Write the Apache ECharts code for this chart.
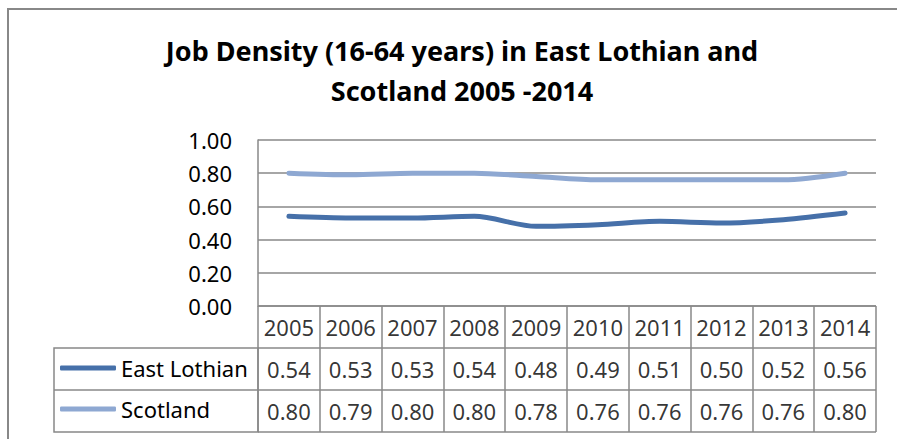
<!DOCTYPE html>
<html>
<head>
<meta charset="utf-8">
<script src="https://cdn.jsdelivr.net/npm/echarts@6/dist/echarts.min.js"></script>
<style>
  html, body { margin: 0; padding: 0; background: #fff; }
  #chart { width: 897px; height: 439px; }
</style>
</head>
<body>
<div id="chart"></div>
<script>
// Job density figures, 2005-2014
const years = ['2005', '2006', '2007', '2008', '2009', '2010', '2011', '2012', '2013', '2014'];
const eastLothian = [0.54, 0.53, 0.53, 0.54, 0.48, 0.49, 0.51, 0.50, 0.52, 0.56];
const scotland = [0.80, 0.79, 0.80, 0.80, 0.78, 0.76, 0.76, 0.76, 0.76, 0.80];
const seriesNames = ['East Lothian', 'Scotland'];
const yTicks = { min: 0, max: 1, interval: 0.2 };

const FONT = 'Noto Sans';
const GRID_COLOR = '#888888';
const COLORS = ['#4670a9', '#8ea8d2'];

// Data table rows (top to bottom): header row of years, then one row per series
const tableRows = ['header', seriesNames[0], seriesNames[1]];
const tableCells = [];
years.forEach((y, i) => {
  tableCells.push({ value: [y, 'header'], text: y });
  tableCells.push({ value: [y, seriesNames[0]], text: eastLothian[i].toFixed(2) });
  tableCells.push({ value: [y, seriesNames[1]], text: scotland[i].toFixed(2) });
});

const chart = echarts.init(document.getElementById('chart'), null, { renderer: 'svg' });

chart.setOption({
  backgroundColor: '#fff',
  animation: false,
  title: {
    text: 'Job Density (16-64 years) in East Lothian and\nScotland 2005 -2014',
    left: 457,
    top: 25,
    textAlign: 'center',
    textStyle: { fontFamily: FONT, fontWeight: 'bold', fontSize: 27, lineHeight: 40, color: '#000' }
  },
  legend: {
    orient: 'vertical',
    left: 55,
    top: 351,
    itemWidth: 56,
    itemHeight: 5,
    itemGap: 17,
    icon: 'roundRect',
    data: seriesNames,
    textStyle: { fontFamily: FONT, fontSize: 22, lineHeight: 24, color: '#000' }
  },
  grid: [
    { left: 258, right: 21, top: 140, height: 166 },
    { left: 258, right: 21, top: 306, height: 126 }
  ],
  xAxis: [
    {
      gridIndex: 0, type: 'category', data: years, boundaryGap: true,
      axisLine: { show: false }, axisTick: { show: false }, axisLabel: { show: false }
    },
    {
      gridIndex: 1, type: 'category', data: years, boundaryGap: true,
      axisLine: { show: false }, axisTick: { show: false }, axisLabel: { show: false },
      splitLine: { show: true, lineStyle: { color: GRID_COLOR, width: 1.5 } }
    }
  ],
  yAxis: [
    {
      gridIndex: 0, type: 'value', min: yTicks.min, max: yTicks.max, interval: yTicks.interval,
      axisLine: { show: true, lineStyle: { color: GRID_COLOR, width: 1.5 } },
      axisTick: { show: false },
      axisLabel: {
        margin: 26, fontFamily: FONT, fontSize: 22, color: '#000',
        formatter: v => v.toFixed(2)
      },
      splitLine: { show: true, lineStyle: { color: GRID_COLOR, width: 1.5 } }
    },
    {
      gridIndex: 1, type: 'category', data: tableRows, inverse: true, boundaryGap: true,
      axisLine: { show: false }, axisTick: { show: false }, axisLabel: { show: false },
      splitLine: { show: true, lineStyle: { color: GRID_COLOR, width: 1.5 } }
    }
  ],
  series: [
    {
      name: seriesNames[0], type: 'line', data: eastLothian, xAxisIndex: 0, yAxisIndex: 0,
      smooth: 0.3, showSymbol: false, color: COLORS[0],
      lineStyle: { width: 5, color: COLORS[0], cap: 'round' }
    },
    {
      name: seriesNames[1], type: 'line', data: scotland, xAxisIndex: 0, yAxisIndex: 0,
      smooth: 0.3, showSymbol: false, color: COLORS[1],
      lineStyle: { width: 5, color: COLORS[1], cap: 'round' }
    },
    {
      name: 'table', type: 'scatter', xAxisIndex: 1, yAxisIndex: 1,
      symbolSize: 0, silent: true,
      data: tableCells,
      label: {
        show: true, position: 'inside', color: '#000',
        fontFamily: FONT, fontSize: 22,
        formatter: p => p.data.text
      }
    }
  ],
  graphic: [
    // outer chart frame
    { type: 'rect', shape: { x: 8, y: 9, width: 900, height: 440 }, style: { fill: 'none', stroke: '#888', lineWidth: 2 }, silent: true },
    // legend column of the data table
    { type: 'rect', shape: { x: 54, y: 348, width: 204, height: 84 }, style: { fill: 'none', stroke: GRID_COLOR, lineWidth: 1.5 }, silent: true },
    { type: 'line', shape: { x1: 54, y1: 390, x2: 258, y2: 390 }, style: { stroke: GRID_COLOR, lineWidth: 1.5 }, silent: true }
  ]
});
</script>
</body>
</html>
